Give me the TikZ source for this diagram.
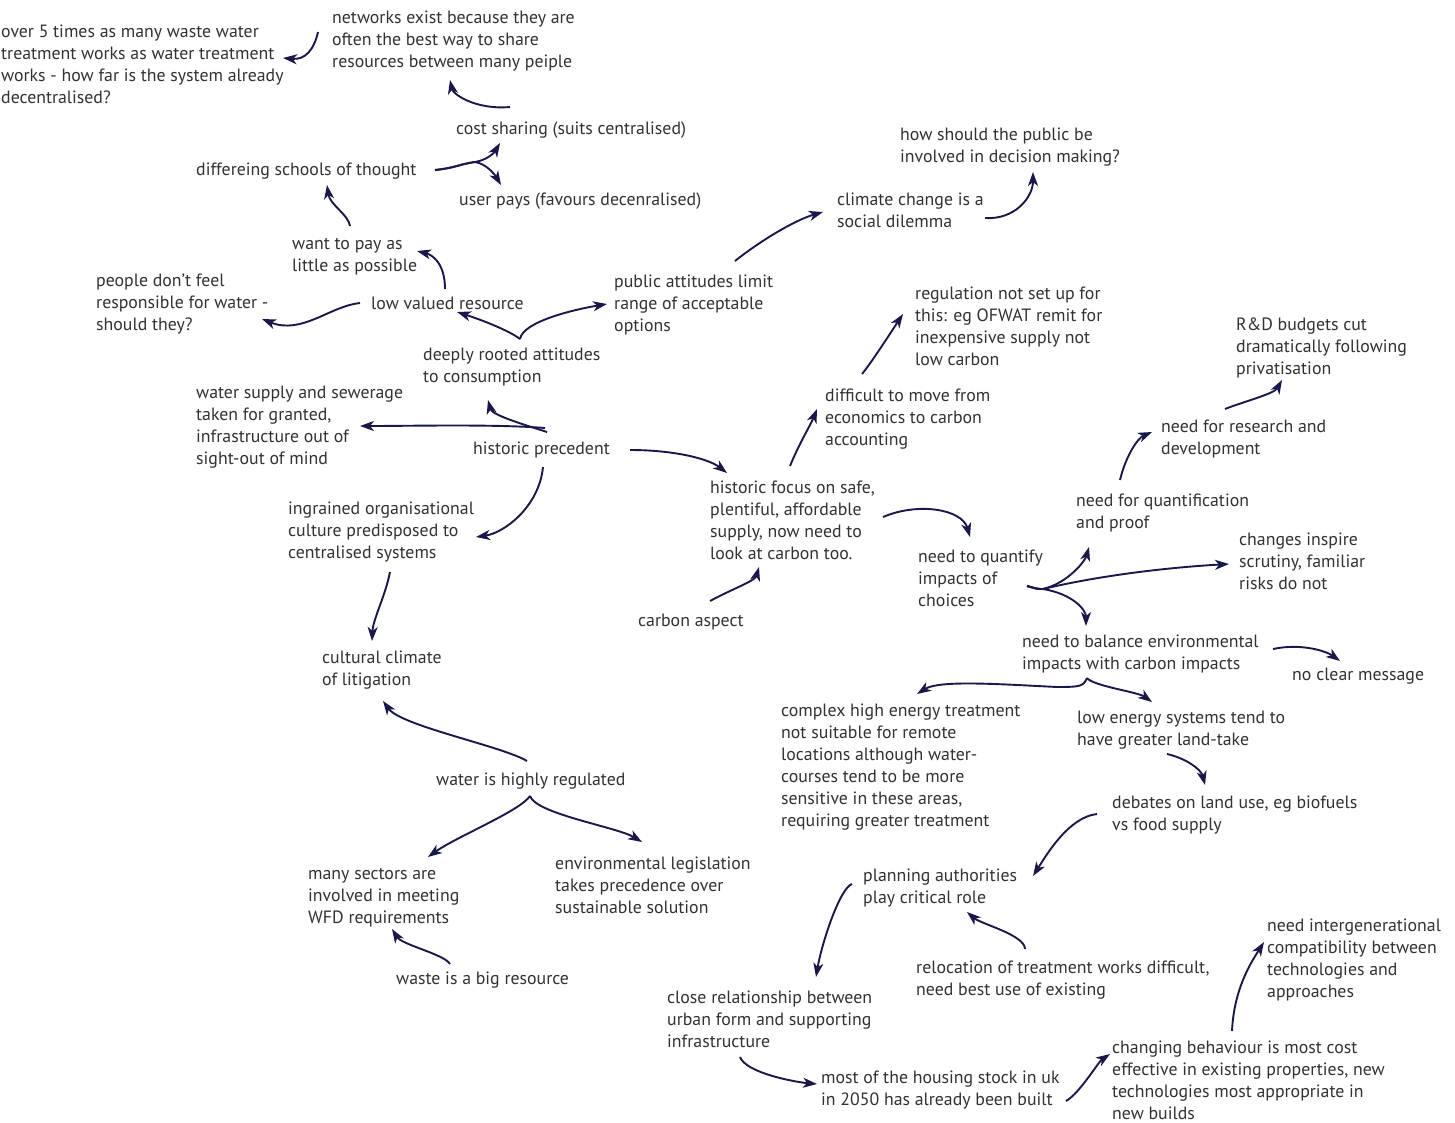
\documentclass[tikz,border=0pt]{standalone}
\usepackage{fontspec}
\setmainfont{PT Sans}
\usetikzlibrary{arrows.meta}
\definecolor{textc}{RGB}{50,50,50}
\definecolor{navy}{RGB}{26,24,74}
\newcommand\fs{\rule{0pt}{13pt}}
\begin{document}
\begin{tikzpicture}[x=1pt,y=-1pt,
  lbl/.style={anchor=north west, inner sep=0pt, align=left, text=textc,
    font=\fontsize{17.8}{22}\selectfont, yshift=1pt},
  arr/.style={draw=navy, line width=1.9pt,
    -{Stealth[length=14pt,width=10pt,inset=4pt]}}]
\fill[white] (0,0) rectangle (1455,1122);
\useasboundingbox (0,0) rectangle (1455,1122);

% nodes
\node[lbl] (over5) at (1,25) {\fs over 5 times as many waste water\\treatment works as water treatment\\works - how far is the system already\\decentralised?};
\node[lbl] (networks) at (332,11) {\fs networks exist because they are\\often the best way to share\\resources between many peiple};
\node[lbl] (costsh) at (456,122) {\fs cost sharing (suits centralised)};
\node[lbl] (schools) at (196,163) {\fs differeing schools of thought};
\node[lbl] (userpays) at (459,193) {\fs user pays (favours decenralised)};
\node[lbl] (howpub) at (900,128) {\fs how should the public be\\involved in decision making?};
\node[lbl] (climate) at (837,193) {\fs climate change is a\\social dilemma};
\node[lbl] (wantpay) at (292,237) {\fs want to pay as\\little as possible};
\node[lbl] (people) at (96,274) {\fs people don't feel\\responsible for water -\\should they?};
\node[lbl] (lowval) at (371,297) {\fs low valued resource};
\node[lbl] (public) at (614,275) {\fs public attitudes limit\\range of acceptable\\options};
\node[lbl] (deeply) at (423,348) {\fs deeply rooted attitudes\\to consumption};
\node[lbl] (regul) at (915,287) {\fs regulation not set up for\\this: eg OFWAT remit for\\inexpensive supply not\\low carbon};
\node[lbl] (rnd) at (1236,318) {\fs R\&D budgets cut\\dramatically following\\privatisation};
\node[lbl] (watersup) at (196,386) {\fs water supply and sewerage\\taken for granted,\\infrastructure out of\\sight-out of mind};
\node[lbl] (histprec) at (473,442) {\fs historic precedent};
\node[lbl] (difficult) at (825,389) {\fs difficult to move from\\economics to carbon\\accounting};
\node[lbl] (research) at (1161,420) {\fs need for research and\\development};
\node[lbl] (histfocus) at (710,481) {\fs historic focus on safe,\\plentiful, affordable\\supply, now need to\\look at carbon too.};
\node[lbl] (ingrained) at (288,502) {\fs ingrained organisational\\culture predisposed to\\centralised systems};
\node[lbl] (quantif) at (1076,494) {\fs need for quantification\\and proof};
\node[lbl] (changes) at (1239,533) {\fs changes inspire\\scrutiny, familiar\\risks do not};
\node[lbl] (needquant) at (918,550) {\fs need to quantify\\impacts of\\choices};
\node[lbl] (carbon) at (638,614) {\fs carbon aspect};
\node[lbl] (balance) at (1022,635) {\fs need to balance environmental\\impacts with carbon impacts};
\node[lbl] (noclear) at (1292,668) {\fs no clear message};
\node[lbl] (cultural) at (322,651) {\fs cultural climate\\of litigation};
\node[lbl] (complex) at (781,704) {\fs complex high energy treatment\\not suitable for remote\\locations although water-\\courses tend to be more\\sensitive in these areas,\\requiring greater treatment};
\node[lbl] (lowenergy) at (1077,711) {\fs low energy systems tend to\\have greater land-take};
\node[lbl] (highreg) at (436,773) {\fs water is highly regulated};
\node[lbl] (debates) at (1112,796) {\fs debates on land use, eg biofuels\\vs food supply};
\node[lbl] (envleg) at (555,857) {\fs environmental legislation\\takes precedence over\\sustainable solution};
\node[lbl] (sectors) at (308,867) {\fs many sectors are\\involved in meeting\\WFD requirements};
\node[lbl] (planning) at (863,869) {\fs planning authorities\\play critical role};
\node[lbl] (intergen) at (1267,919) {\fs need intergenerational\\compatibility between\\technologies and\\approaches};
\node[lbl] (relocation) at (916,961) {\fs relocation of treatment works difficult,\\need best use of existing};
\node[lbl] (waste) at (396,972) {\fs waste is a big resource};
\node[lbl] (close) at (667,991) {\fs close relationship between\\urban form and supporting\\infrastructure};
\node[lbl] (housing) at (821,1071) {\fs most of the housing stock in uk\\in 2050 has already been built};
\node[lbl] (behaviour) at (1112,1041) {\fs changing behaviour is most cost\\effective in existing properties, new\\technologies most appropriate in\\new builds};

% connectors
\draw[arr] ([shift={(-14,22)}]networks.north west) .. controls +(-4,18) and +(22,2) .. ([shift={(282,34)}]over5.north west);
\draw[arr] ([shift={(54,-14)}]costsh.north west) .. controls +(-35,3) and +(3,14) .. ([shift={(118,70)}]networks.north west);
\draw[arr] ([shift={(239,8)}]schools.north west) .. controls +(20,-2) and +(-15,2) .. ([shift={(279,0)}]schools.north west) .. controls +(12,-2) and +(-6,10) .. ([shift={(44,22)}]costsh.north west);
\draw[arr] ([shift={(239,8)}]schools.north west) .. controls +(20,-2) and +(-15,2) .. ([shift={(279,0)}]schools.north west) .. controls +(12,2) and +(-6,-10) .. ([shift={(42,-7)}]userpays.north west);
\draw[arr] ([shift={(58,-10)}]wantpay.north west) .. controls +(-2,-12) and +(3,20) .. ([shift={(131,23)}]schools.north west);
\draw[arr] ([shift={(74,-7)}]lowval.north west) .. controls +(0,-25) and +(16,4) .. ([shift={(125,15)}]wantpay.north west);
\draw[arr] ([shift={(-11,7)}]lowval.north west) .. controls +(-30,3) and +(40,16) .. ([shift={(166,46)}]people.north west);
\draw[arr] ([shift={(97,-8)}]deeply.north west) .. controls +(-10,-8) and +(25,8) .. ([shift={(86,16)}]lowval.north west);
\draw[arr] ([shift={(97,-8)}]deeply.north west) .. controls +(3,-18) and +(-30,5) .. ([shift={(-7,30)}]public.north west);
\draw[arr] ([shift={(121,-13)}]public.north west) .. controls +(25,-20) and +(-28,8) .. ([shift={(-14,20)}]climate.north west);
\draw[arr] ([shift={(148,26)}]climate.north west) .. controls +(30,2) and +(0,25) .. ([shift={(133,45)}]howpub.north west);
\draw[arr] ([shift={(80,-14)}]histfocus.north west) .. controls +(8,-20) and +(-6,15) .. ([shift={(-8,21)}]difficult.north west);
\draw[arr] ([shift={(37,-14)}]difficult.north west) .. controls +(10,-12) and +(-8,12) .. ([shift={(-12,28)}]regul.north west);
\draw[arr] ([shift={(64,-10)}]research.north west) .. controls +(20,-8) and +(-8,14) .. ([shift={(46,63)}]rnd.north west);
\draw[arr] ([shift={(44,-13)}]quantif.north west) .. controls +(6,-25) and +(-14,6) .. ([shift={(-9,13)}]research.north west);
\draw[arr] ([shift={(74,-9)}]histprec.north west) .. controls +(-25,-8) and +(4,15) .. ([shift={(65,53)}]deeply.north west);
\draw[arr] ([shift={(72,-13)}]histprec.north west) .. controls +(-50,-4) and +(50,0) .. ([shift={(164,41)}]watersup.north west);
\draw[arr] ([shift={(70,26)}]histprec.north west) .. controls +(-4,40) and +(28,-4) .. ([shift={(188,36)}]ingrained.north west);
\draw[arr] ([shift={(157,9)}]histprec.north west) .. controls +(45,0) and +(-18,-14) .. ([shift={(17,-7)}]histfocus.north west);
\draw[arr] ([shift={(102,71)}]ingrained.north west) .. controls +(-5,25) and +(1,-22) .. ([shift={(50,-9)}]cultural.north west);
\draw[arr] ([shift={(72,-12)}]carbon.north west) .. controls +(22,-12) and +(-4,14) .. ([shift={(49,87)}]histfocus.north west);
\draw[arr] ([shift={(173,37)}]histfocus.north west) .. controls +(35,-15) and +(-8,-28) .. ([shift={(52,-12)}]needquant.north west);
\draw[arr] ([shift={(109,37)}]needquant.north west) .. controls +(8,2) and +(-8,0) .. ([shift={(125,40)}]needquant.north west) .. controls +(25,-6) and +(-4,14) .. ([shift={(13,54)}]quantif.north west);
\draw[arr] ([shift={(109,37)}]needquant.north west) .. controls +(8,2) and +(-8,0) .. ([shift={(125,40)}]needquant.north west) .. controls +(50,-12) and +(-70,4) .. ([shift={(-10,32)}]changes.north west);
\draw[arr] ([shift={(109,37)}]needquant.north west) .. controls +(8,2) and +(-8,0) .. ([shift={(125,40)}]needquant.north west) .. controls +(30,5) and +(0,-16) .. ([shift={(64,-8)}]balance.north west);
\draw[arr] ([shift={(251,15)}]balance.north west) .. controls +(28,-6) and +(-14,-10) .. ([shift={(48,-6)}]noclear.north west);
\draw[arr] ([shift={(65,44)}]balance.north west) .. controls +(-4,8) and +(25,0) .. ([shift={(35,53)}]balance.north west) .. controls +(-60,-3) and +(22,-14) .. ([shift={(136,-9)}]complex.north west);
\draw[arr] ([shift={(65,44)}]balance.north west) .. controls +(6,8) and +(-14,-10) .. ([shift={(75,-8)}]lowenergy.north west);
\draw[arr] ([shift={(90,44)}]lowenergy.north west) .. controls +(18,4) and +(-4,-16) .. ([shift={(93,-10)}]debates.north west);
\draw[arr] ([shift={(-15,19)}]debates.north west) .. controls +(-28,3) and +(14,-22) .. ([shift={(170,8)}]planning.north west);
\draw[arr] ([shift={(109,-11)}]relocation.north west) .. controls +(0,-14) and +(14,12) .. ([shift={(104,44)}]planning.north west);
\draw[arr] ([shift={(-11,16)}]planning.north west) .. controls +(-12,4) and +(6,-35) .. ([shift={(149,-13)}]close.north west);
\draw[arr] ([shift={(73,67)}]close.north west) .. controls +(6,16) and +(-22,-2) .. ([shift={(-4,14)}]housing.north west);
\draw[arr] ([shift={(245,31)}]housing.north west) .. controls +(14,-8) and +(-12,8) .. ([shift={(-2,14)}]behaviour.north west);
\draw[arr] ([shift={(120,-9)}]behaviour.north west) .. controls +(2,-45) and +(-10,16) .. ([shift={(-3,24)}]intergen.north west);
\draw[arr] ([shift={(91,-11)}]highreg.north west) .. controls +(-25,-15) and +(18,25) .. ([shift={(61,51)}]cultural.north west);
\draw[arr] ([shift={(94,24)}]highreg.north west) .. controls +(-10,15) and +(28,-20) .. ([shift={(120,-9)}]sectors.north west);
\draw[arr] ([shift={(94,24)}]highreg.north west) .. controls +(6,18) and +(-25,-15) .. ([shift={(87,-14)}]envleg.north west);
\draw[arr] ([shift={(54,-7)}]waste.north west) .. controls +(-6,-10) and +(10,16) .. ([shift={(84,63)}]sectors.north west);
\end{tikzpicture}
\end{document}
